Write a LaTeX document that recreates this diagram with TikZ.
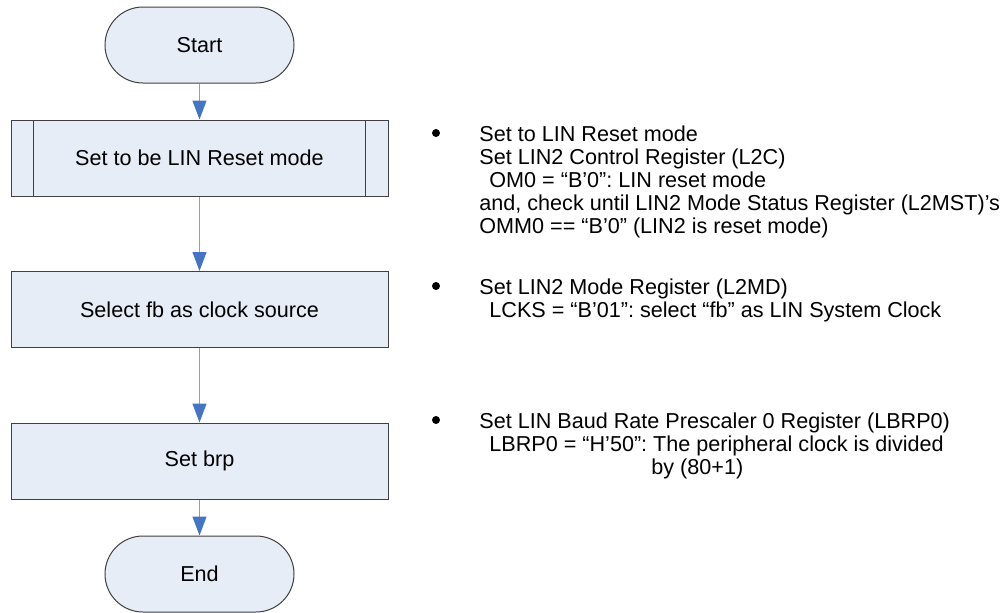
\documentclass[tikz,border=0pt]{standalone}
\usepackage{fontspec}
\setmainfont{Liberation Sans}
\usetikzlibrary{arrows.meta}
\definecolor{boxfill}{RGB}{231,237,247}
\definecolor{boxline}{RGB}{64,64,64}
\definecolor{flowline}{RGB}{126,162,214}
\definecolor{flowhead}{RGB}{70,116,196}
\frenchspacing

\begin{document}
\begin{tikzpicture}[x=0.5pt, y=-0.5pt,
    every node/.style={font=\fontsize{10.8}{11.5}\selectfont},
    terminal/.style={draw=boxline, fill=boxfill, line width=0.5pt, rounded corners=19pt, minimum width=94.5pt, minimum height=38pt},
    process/.style={draw=boxline, fill=boxfill, line width=0.5pt, minimum width=188.5pt, minimum height=38pt},
    flow/.style={draw=flowline, line width=0.6pt, -{Triangle[width=7pt, length=9.5pt, flowhead]}},
    note/.style={align=left, anchor=north west, inner sep=0pt},
    dot/.style={circle, fill=black, inner sep=0pt, minimum size=4pt}]

    \useasboundingbox (0,0) rectangle (1003,612);

    \node[terminal] (start) at (199.5,45) {Start};
    \node[process] (reset) at (199.5,158) {Set to be LIN Reset mode};
    \node[process] (clock) at (199.5,309.5) {Select fb as clock source};
    \node[process] (brp) at (199.5,461) {Set brp};
    \node[terminal] (end) at (199.5,574) {End};

    \draw[boxline, line width=0.5pt] ([xshift=11.5pt]reset.north west) -- ([xshift=11.5pt]reset.south west);
    \draw[boxline, line width=0.5pt] ([xshift=-11.5pt]reset.north east) -- ([xshift=-11.5pt]reset.south east);

    \draw[flow] (start) -- (reset);
    \draw[flow] (reset) -- (clock);
    \draw[flow] (clock) -- (brp);
    \draw[flow] (brp) -- (end);

    \node[dot] (dot1) at (436,133) {};
    \node[dot] (dot2) at (436,286) {};
    \node[dot] (dot3) at (436,420) {};

    \node[note] (note1) at (479,125) {Set to LIN Reset mode\\
        Set LIN2 Control Register (L2C)\\
        \hspace*{5pt}OM0 = “B’0”: LIN reset mode\\
        and, check until LIN2 Mode Status Register (L2MST)’s\\
        OMM0 == “B’0” (LIN2 is reset mode)};
    \node[note] (note2) at (479,278) {Set LIN2 Mode Register (L2MD)\\
        \hspace*{5pt}LCKS = “B’01”: select “fb” as LIN System Clock};
    \node[note] (note3) at (479,412) {Set LIN Baud Rate Prescaler 0 Register (LBRP0)\\
        \hspace*{5pt}LBRP0 = “H’50”: The peripheral clock is divided\\
        \hspace*{86pt}by (80+1)};

\end{tikzpicture}
\end{document}
